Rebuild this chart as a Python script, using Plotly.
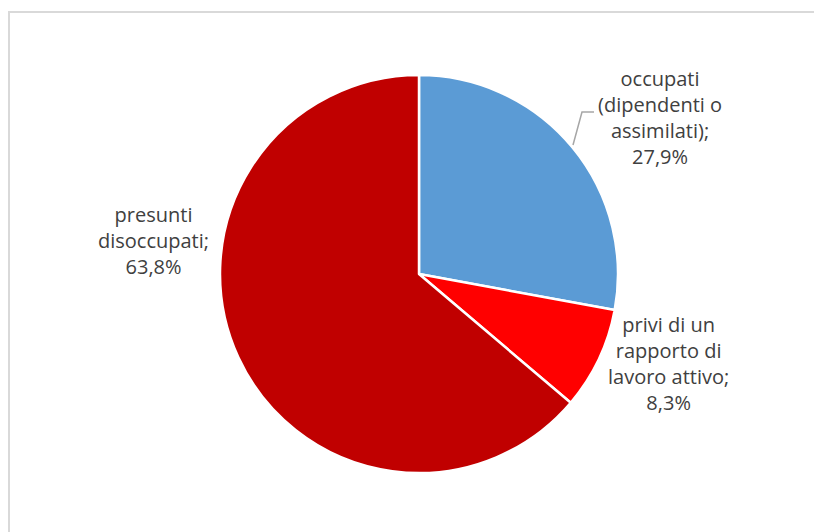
import plotly.graph_objects as go

# Composition of the group, share in percent
categories = [
    "occupati<br>(dipendenti o<br>assimilati)",
    "privi di un<br>rapporto di<br>lavoro attivo",
    "presunti<br>disoccupati",
]
shares = [27.9, 8.3, 63.8]
colors = ["#5B9BD5", "#FF0000", "#C00000"]

W, H = 814, 532
cx, cy, r = 419, 274, 199

fig = go.Figure()
fig.add_trace(go.Pie(
    labels=categories,
    values=shares,
    sort=False,
    direction="clockwise",
    rotation=0,
    marker=dict(colors=colors, line=dict(color="white", width=2.5)),
    textinfo="none",
    hoverinfo="label+percent",
    showlegend=False,
    domain=dict(x=[(cx - r) / W, (cx + r) / W], y=[1 - (cy + r) / H, 1 - (cy - r) / H]),
))

def pct(v):
    return f"{v:.1f}".replace(".", ",") + "%"

# Label anchors (pixel centres of each text block)
label_pos = [(660, 118), (668, 363), (153, 240)]
for name, v, (px, py) in zip(categories, shares, label_pos):
    fig.add_annotation(
        x=px / W, y=1 - py / H, xref="paper", yref="paper",
        text=f"{name};<br>{pct(v)}",
        showarrow=False, xanchor="center", yanchor="middle", align="center",
        font=dict(family="Open Sans, Liberation Sans, sans-serif", size=20, color="#404040"),
    )

def px2paper(x, y):
    return x / W, 1 - y / H

# Leader line for the first label
pts = [(573, 145), (582, 112), (594, 112)]
path = "M " + " L ".join(f"{px2paper(x, y)[0]},{px2paper(x, y)[1]}" for x, y in pts)
fig.add_shape(type="path", path=path, xref="paper", yref="paper",
              line=dict(color="#A6A6A6", width=1.5))

# Chart area frame
fig.add_shape(type="rect", xref="paper", yref="paper",
              x0=9 / W, y0=-0.05, x1=1.05, y1=1 - 12 / H,
              line=dict(color="#D9D9D9", width=2), fillcolor="rgba(0,0,0,0)", layer="below")

fig.update_layout(
    width=W, height=H,
    margin=dict(l=0, r=0, t=0, b=0),
    paper_bgcolor="white", plot_bgcolor="white",
)

fig.write_html("out.html")
